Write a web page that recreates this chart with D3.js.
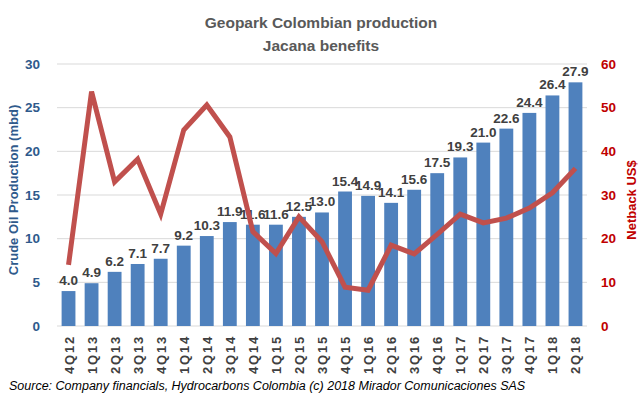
<!DOCTYPE html>
<html>
<head>
<meta charset="utf-8">
<script src="https://cdn.jsdelivr.net/npm/d3@7"></script>
<style>
  body { margin: 0; background: #fff; }
  svg { display: block; font-family: "Liberation Sans", Arial, sans-serif; }
</style>
</head>
<body>
<div class="chart"></div>
<script>
// quarters on the x axis
let quarters = ["4Q12","1Q13","2Q13","3Q13","4Q13","1Q14","2Q14","3Q14","4Q14","1Q15","2Q15","3Q15",
  "4Q15","1Q16","2Q16","3Q16","4Q16","1Q17","2Q17","3Q17","4Q17","1Q18","2Q18"];

// crude oil production, mbd (bars, left axis)
let production = [4.0,4.9,6.2,7.1,7.7,9.2,10.3,11.9,11.6,11.6,12.5,13.0,
  15.4,14.9,14.1,15.6,17.5,19.3,21.0,22.6,24.4,26.4,27.9];

// netback US$ (line, right axis)
let netback = [14.0,53.7,33.0,38.2,25.6,44.9,50.6,43.3,21.6,16.6,25.0,19.3,
  8.9,8.2,18.5,16.5,21.0,25.6,23.6,24.7,27.0,30.5,36.1];

let leftTicks = [0,5,10,15,20,25,30];
let rightTicks = [0,10,20,30,40,50,60];

let W = 643, H = 397;
let margin = {top: 64, right: 56, bottom: 71, left: 57},
  width = W - margin.left - margin.right,
  height = H - margin.top - margin.bottom;

let svg = d3.select(".chart").append("svg")
  .attr("width", W)
  .attr("height", H);

// titles
svg.append("text")
  .attr("x", 321).attr("y", 28)
  .attr("text-anchor", "middle")
  .attr("font-size", 15.5).attr("font-weight", "bold")
  .attr("fill", "#595959")
  .text("Geopark Colombian production");
svg.append("text")
  .attr("x", 321).attr("y", 51)
  .attr("text-anchor", "middle")
  .attr("font-size", 15.5).attr("font-weight", "bold")
  .attr("fill", "#595959")
  .text("Jacana benefits");

let g = svg.append("g")
  .attr("transform", "translate(" + margin.left + "," + margin.top + ")");

let x = d3.scaleBand()
  .domain(quarters)
  .range([0, width])
  .paddingInner(0.4)
  .paddingOuter(0.2);

let yL = d3.scaleLinear().domain([0, 30]).range([height, 0]);
let yR = d3.scaleLinear().domain([0, 60]).range([height, 0]);

// gridlines
g.append("g")
  .selectAll("line")
  .data(leftTicks)
  .enter().append("line")
  .attr("x1", 0).attr("x2", width)
  .attr("y1", d => yL(d)).attr("y2", d => yL(d))
  .attr("stroke", "#d9d9d9").attr("stroke-width", 1);

// left axis
let axL = g.append("g")
  .call(d3.axisLeft(yL).tickValues(leftTicks).tickSize(0).tickPadding(17));
axL.select(".domain").remove();
axL.selectAll("text")
  .attr("font-size", 13.5).attr("font-weight", "bold")
  .attr("fill", "#2f5a8c").attr("font-family", "Liberation Sans, Arial, sans-serif");

// right axis
let axR = g.append("g")
  .attr("transform", "translate(" + width + ",0)")
  .call(d3.axisRight(yR).tickValues(rightTicks).tickSize(0).tickPadding(14));
axR.select(".domain").remove();
axR.selectAll("text")
  .attr("font-size", 13.5).attr("font-weight", "bold")
  .attr("fill", "#c00000").attr("font-family", "Liberation Sans, Arial, sans-serif");

// axis titles
svg.append("text")
  .attr("transform", "translate(18,190) rotate(-90)")
  .attr("text-anchor", "middle")
  .attr("font-size", 13).attr("font-weight", "bold")
  .attr("fill", "#2f5a8c")
  .text("Crude Oil Production (mbd)");
svg.append("text")
  .attr("transform", "translate(636,200) rotate(-90)")
  .attr("text-anchor", "middle")
  .attr("font-size", 13).attr("font-weight", "bold")
  .attr("fill", "#c00000")
  .text("Netback US$");

// bars
g.selectAll(".bar")
  .data(production)
  .enter().append("rect")
  .attr("class", "bar")
  .attr("x", (d, i) => x(quarters[i]))
  .attr("y", d => yL(d))
  .attr("width", x.bandwidth())
  .attr("height", d => height - yL(d))
  .attr("fill", "#4f81bd");

// bar labels
g.selectAll(".lbl")
  .data(production)
  .enter().append("text")
  .attr("class", "lbl")
  .attr("x", (d, i) => x(quarters[i]) + x.bandwidth() / 2)
  .attr("y", d => yL(d) - 6)
  .attr("text-anchor", "middle")
  .attr("font-size", 13.5).attr("font-weight", "bold")
  .attr("fill", "#404040")
  .text(d => d.toFixed(1));

// netback line
let line = d3.line()
  .x((d, i) => x(quarters[i]) + x.bandwidth() / 2)
  .y(d => yR(d));

g.append("path")
  .datum(netback)
  .attr("d", line)
  .attr("fill", "none")
  .attr("stroke", "#c0504d")
  .attr("stroke-width", 5)
  .attr("stroke-linejoin", "miter");

// x labels, rotated
g.append("g")
  .selectAll("text")
  .data(quarters)
  .enter().append("text")
  .attr("transform", d => "translate(" + (x(d) + x.bandwidth() / 2 + 5) + "," + (height + 9) + ") rotate(-90)")
  .attr("text-anchor", "end")
  .attr("font-size", 13).attr("font-weight", "bold")
  .attr("letter-spacing", 1.8)
  .attr("fill", "#404040")
  .text(d => d);

// source note
svg.append("text")
  .attr("x", 9).attr("y", 390)
  .attr("font-size", 12.5).attr("font-style", "italic")
  .attr("fill", "#000")
  .text("Source: Company financials, Hydrocarbons Colombia (c) 2018 Mirador Comunicaciones SAS");
</script>
</body>
</html>
